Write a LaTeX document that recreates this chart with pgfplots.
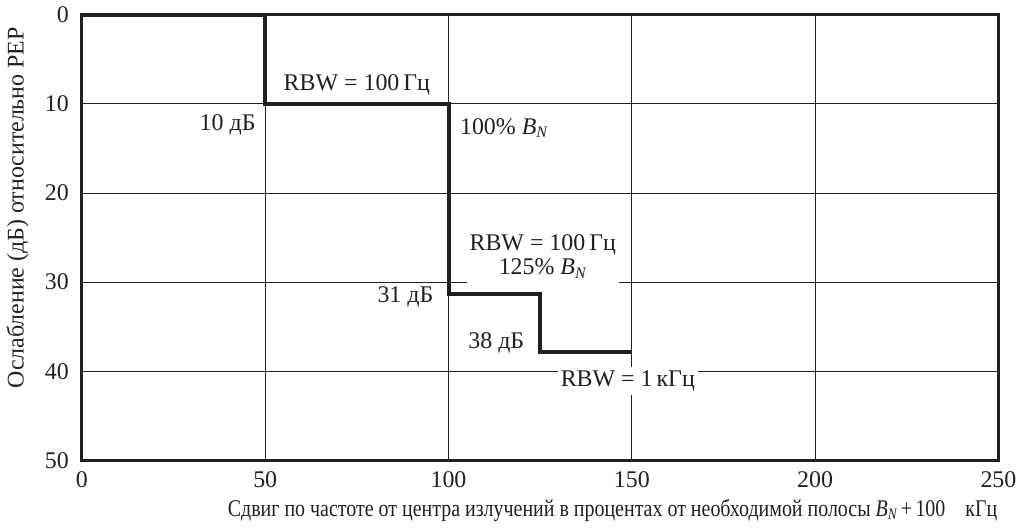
\documentclass[border=0pt]{standalone}
\usepackage{fontspec}
\setmainfont{Liberation Serif}
\usepackage{graphicx}
\usepackage{pgfplots}
\pgfplotsset{compat=1.18}
\definecolor{ink}{HTML}{231F20}
\newcommand{\BN}{{\itshape B}\textsubscript{\itshape N}}
\begin{document}
\begin{tikzpicture}[font=\fontsize{12}{14}\selectfont]
\begin{axis}[
  scale only axis,
  width=458.5bp, height=223bp,
  xmin=0, xmax=250, ymin=0, ymax=50,
  y dir=reverse,
  xtick={0,50,...,250}, ytick={0,10,...,50},
  grid=major,
  major grid style={line width=0.5bp, ink},
  major tick length=0pt,
  axis line style={line width=1.5bp, ink},
  /pgf/number format/assume math mode=true,
  tick label style={font=\fontsize{12}{14}\selectfont, text=ink},
  xticklabel style={yshift=-2bp},
  yticklabel style={xshift=-3bp},
  xlabel={\scalebox{0.835}[1]{Сдвиг по частоте от центра излучений в процентах от необходимой полосы \BN\,+\,100\quad кГц}},
  ylabel={Ослабление (дБ) относительно PEP},
  xlabel style={at={(axis description cs:0.579,-0.112)}, anchor=center, text=ink},
  ylabel style={at={(axis description cs:-0.07,0.567)}, anchor=center, text=ink},
  clip=false,
]
\node[anchor=center, text=ink] at (axis cs:75,7.9) {RBW = 100\,Гц};
\node[anchor=east, text=ink, inner sep=1bp] at (axis cs:48,12.4) {10 дБ};
\node[anchor=west, text=ink, inner sep=1bp] at (axis cs:102.5,12.7) {100\% \BN};
\node[fill=white, align=center, text=ink, inner xsep=1.5bp, inner ysep=4.5bp, yshift=-1.5bp] at (axis cs:125.7,26.8) {RBW = 100\,Гц\\[-2bp]125\% \BN};
\node[anchor=east, text=ink, inner sep=1bp] at (axis cs:96.5,31.6) {31 дБ};
\node[anchor=east, text=ink, inner sep=1bp] at (axis cs:121.3,36.8) {38 дБ};
\node[fill=white, text=ink, inner xsep=1.5bp, inner ysep=2bp] at (axis cs:148.9,41.1) {RBW = 1\,кГц};
\addplot[ink, line width=2bp, mark=none] coordinates {
  (0,0) (50,0) (50,10) (100,10) (100,31.3) (125,31.3) (125,37.8) (150,37.8)
};
\end{axis}
\end{tikzpicture}
\end{document}
